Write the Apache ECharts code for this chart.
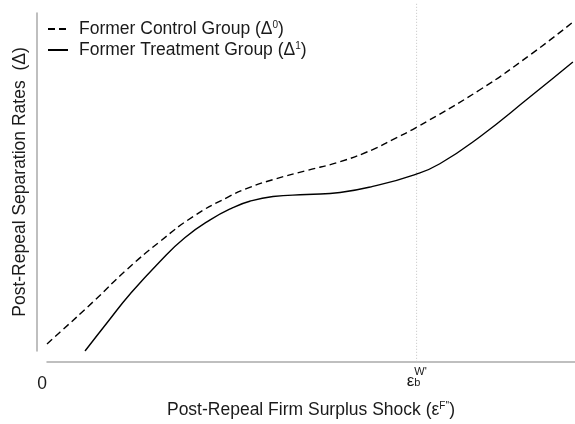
<!DOCTYPE html>
<html>
<head>
<meta charset="utf-8">
<script src="https://cdn.jsdelivr.net/npm/echarts@6/dist/echarts.min.js"></script>
<style>
  html, body { margin: 0; padding: 0; background: #fff; }
  #chart { width: 575px; height: 424px; }
</style>
</head>
<body>
<div id="chart"></div>
<script>
// curves (x: 0-100 shock, y: 0-100 separation rate)
var controlX = [0, 2.5, 8.7, 15.2, 21.4, 27.7, 34.1, 38.4, 42.8, 49.2, 55.5, 61.7, 65.3, 69.9, 82.0, 91.5, 99.6];
var controlY = [2.1, 5.6, 14.5, 24.2, 32.4, 39.8, 45.4, 48.4, 50.7, 53.4, 56.0, 59.6, 62.4, 66.1, 77.3, 87.6, 97.3];
var treatX = [7.2, 11.9, 15.7, 21.4, 26.1, 30.9, 35.2, 38.4, 42.8, 49.2, 55.5, 61.7, 69.7, 74.4, 82.0, 91.5, 99.6];
var treatY = [0, 9.4, 16.8, 26.5, 33.5, 38.8, 42.4, 44.3, 45.7, 46.3, 46.9, 48.7, 52.2, 55.4, 63.4, 75.2, 85.5];
var tickValues = [0, 70];
var cutoffX = 70;

function pairs(xs, ys) {
  var out = [];
  for (var i = 0; i < xs.length; i++) out.push([xs[i], ys[i]]);
  return out;
}

var chart = echarts.init(document.getElementById('chart'));
var font = 'Liberation Sans, Arial, sans-serif';
var fs = 17.5;

var option = {
  animation: false,
  textStyle: { fontFamily: font },
  grid: { left: 47, right: 0, top: 13, bottom: 72 },
  legend: {
    left: 42,
    top: 15,
    orient: 'vertical',
    itemWidth: 20,
    itemHeight: 14,
    itemGap: 3,
    data: ['control', 'treat'],
    itemStyle: { color: 'transparent', borderWidth: 0, opacity: 0 },
    formatter: function (n) {
      return n === 'control'
        ? 'Former Control Group (Δ{s|0})'
        : 'Former Treatment Group (Δ{s|1})';
    },
    textStyle: {
      fontSize: fs,
      color: '#1a1a1a',
      padding: [0, 0, 0, 6],
      rich: { s: { fontSize: 10, verticalAlign: 'top', padding: [0, 0, 5, 0] } }
    }
  },
  xAxis: {
    type: 'value',
    min: 0,
    max: 100,
    offset: 11,
    name: "Post-Repeal Firm Surplus Shock (ε{s|F''})",
    nameLocation: 'middle',
    nameGap: 39,
    nameTextStyle: {
      fontSize: fs,
      color: '#1a1a1a',
      rich: { s: { fontSize: 10, verticalAlign: 'top', padding: [0, 0, 5, 0] } }
    },
    axisLine: { onZero: false, lineStyle: { color: '#aaaaaa', width: 1.5 } },
    axisTick: { show: false },
    splitLine: { show: false },
    axisLabel: {
      customValues: tickValues,
      margin: 2,
      color: '#1a1a1a',
      fontSize: fs,
      formatter: function (v) {
        return v === 0 ? '{z|0}' : "{w|W'}\n{e|ε}{b|b}";
      },
      rich: {
        z: { fontSize: fs, padding: [11, 10, 0, 0] },
        w: { fontSize: 11, padding: [5, 0, 0, 8], lineHeight: 10 },
        e: { fontSize: 17, lineHeight: 14 },
        b: { fontSize: 11, lineHeight: 14, verticalAlign: 'bottom', padding: [14, 6, 0, 0] }
      }
    }
  },
  yAxis: {
    type: 'value',
    min: 0,
    max: 100,
    offset: 10,
    name: 'Post-Repeal Separation Rates  (Δ)',
    nameLocation: 'middle',
    nameGap: 8,
    nameTextStyle: { fontSize: fs, color: '#1a1a1a' },
    axisLine: { show: true, onZero: false, lineStyle: { color: '#aaaaaa', width: 1.5 } },
    axisTick: { show: false },
    axisLabel: { show: false },
    splitLine: { show: false }
  },
  series: [
    {
      name: 'cutoff',
      type: 'line',
      data: [[cutoffX, -3.2], [cutoffX, 103]],
      clip: false,
      symbol: 'none',
      silent: true,
      lineStyle: { color: '#c4c4c4', width: 1, type: [1, 2] },
      z: 1
    },
    {
      name: 'control',
      type: 'line',
      data: pairs(controlX, controlY),
      smooth: 0.5,
      symbol: 'none',
      lineStyle: { color: '#000', width: 1.4, type: [7, 4] },
      itemStyle: { color: '#000' }
    },
    {
      name: 'treat',
      type: 'line',
      data: pairs(treatX, treatY),
      smooth: 0.5,
      symbol: 'none',
      lineStyle: { color: '#000', width: 1.4 },
      itemStyle: { color: '#000' }
    }
  ]
};

chart.setOption(option);
</script>
</body>
</html>
